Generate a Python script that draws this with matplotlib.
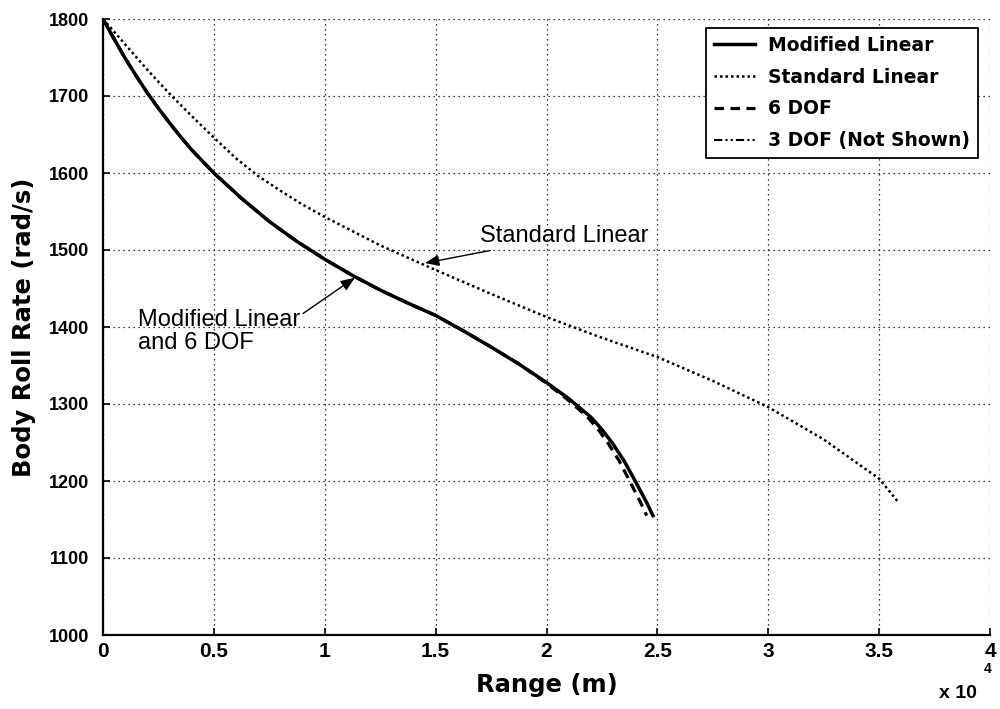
import matplotlib
matplotlib.use("Agg")
import matplotlib.pyplot as plt
from matplotlib import font_manager
from matplotlib.ticker import FixedLocator, FuncFormatter

# ---- data (range in metres, roll rate in rad/s) ----
range_mod = [0, 500, 1000, 1500, 2000, 2500, 3000, 3500, 4000, 4500, 5000, 6250, 7500,
             8750, 10000, 11250, 12500, 13750, 15000, 16250, 17500, 18750, 20000,
             21000, 22000, 22500, 23000, 23500, 24000, 24500, 24800]
rate_mod = [1800, 1774, 1749, 1726, 1704, 1684, 1665, 1647, 1630, 1615, 1600, 1567, 1537,
            1511, 1488, 1467, 1448, 1431, 1415, 1395, 1374, 1352, 1328,
            1307, 1283, 1267, 1248, 1226, 1200, 1173, 1155]

range_std = [0, 1000, 2000, 3000, 4000, 5000, 6000, 7000, 8000, 9000, 10000, 12500,
             15000, 17500, 20000, 22400, 25000, 27500, 30000, 32500, 35000, 35850]
rate_std = [1800, 1767, 1734, 1703, 1674, 1646, 1619, 1596, 1577, 1559, 1543, 1506,
            1474, 1443, 1413, 1387, 1361, 1330, 1296, 1254, 1203, 1173]

range_6dof = [0, 500, 1000, 1500, 2000, 2500, 3000, 3500, 4000, 4500, 5000, 6250, 7500,
              8750, 10000, 11250, 12500, 13750, 15000, 16250, 17500, 18750, 19950,
              20900, 21850, 22330, 22800, 23280, 23750, 24230, 24520]
rate_6dof = [1800, 1774, 1749, 1726, 1704, 1684, 1665, 1647, 1630, 1615, 1600, 1567, 1537,
             1511, 1488, 1467, 1448, 1431, 1415, 1395, 1374, 1352, 1328,
             1307, 1283, 1267, 1248, 1226, 1200, 1173, 1155]

x_ticks = [0, 5000, 10000, 15000, 20000, 25000, 30000, 35000, 40000]
y_ticks = [1000, 1100, 1200, 1300, 1400, 1500, 1600, 1700, 1800]

labels = ["Modified Linear", "Standard Linear", "6 DOF", "3 DOF (Not Shown)"]


def pick_font(candidates):
    for name in candidates:
        try:
            font_manager.findfont(font_manager.FontProperties(family=name),
                                  fallback_to_default=False)
            return name
        except Exception:
            pass
    return "DejaVu Sans"


tick_family = pick_font(["Liberation Sans"])
ann_family = pick_font(["Liberation Sans"])

# ---- figure ----
fig = plt.figure(figsize=(10, 7.09), dpi=100)
ax = fig.add_axes([0.103, 1 - 635 / 709, 0.887, (635 - 19) / 709])

ax.plot(range_mod, rate_mod, color="black", lw=2.5, ls="-", label=labels[0], zorder=4)
ax.plot(range_std, rate_std, color="black", lw=1.8, ls=(0, (1, 1.2)), label=labels[1], zorder=3)
ax.plot(range_6dof, rate_6dof, color="black", lw=2.3, ls=(0, (3, 2)), label=labels[2], zorder=3)
# 3 DOF not shown: legend entry only
ax.plot([], [], color="black", lw=1.5, ls=(0, (4, 1.5, 1, 1.5, 1, 1.5)), label=labels[3])

ax.set_xlim(0, 40000)
ax.set_ylim(1000, 1800)
ax.xaxis.set_major_locator(FixedLocator(x_ticks))
ax.yaxis.set_major_locator(FixedLocator(y_ticks))
ax.xaxis.set_major_formatter(FuncFormatter(lambda v, p: "%g" % (v / 1e4)))
ax.yaxis.set_major_formatter(FuncFormatter(lambda v, p: "%d" % v))

ax.grid(True, color="black", lw=0.9, ls=(0, (1, 3)))
for s in ["top", "right"]:
    ax.spines[s].set_visible(False)
for s in ["left", "bottom"]:
    ax.spines[s].set_linewidth(1.6)

ax.tick_params(direction="in", length=5, width=1.2, top=False, right=False)
ax.tick_params(axis="y", pad=10)
ax.tick_params(axis="x", pad=5)
yfp = font_manager.FontProperties(family=tick_family, weight="bold", size=13)
xfp = font_manager.FontProperties(family=tick_family, weight="bold", size=15)
for lab in ax.get_yticklabels():
    lab.set_fontproperties(yfp)
for lab in ax.get_xticklabels():
    lab.set_fontproperties(xfp)

ax.set_ylabel("Body Roll Rate (rad/s)", family="DejaVu Sans", weight="bold", size=17.5, labelpad=9)
ax.set_xlabel("Range (m)", family="DejaVu Sans", weight="bold", size=17.5, labelpad=9)

fig.text(958 / 1000, 1 - 694 / 709, "x 10", ha="center", va="center",
         family=tick_family, weight="bold", size=14)
fig.text(988 / 1000, 1 - 669 / 709, "4", ha="center", va="center",
         family=tick_family, weight="bold", size=10)

leg = ax.legend(loc="upper right", bbox_to_anchor=(0.9865, 0.9854), borderaxespad=0,
                fancybox=False, edgecolor="black", framealpha=1, handlelength=2.2,
                labelspacing=0.68, borderpad=0.42, handletextpad=0.7,
                prop=dict(family="DejaVu Sans", weight="bold", size=13.5))
leg.get_frame().set_linewidth(1.3)

ann_font = dict(family=ann_family, size=17)
ax.annotate("Standard Linear", xy=(14520, 1483), xytext=(17000, 1518),
            ha="left", va="center", **ann_font,
            arrowprops=dict(arrowstyle="-|>,head_length=0.5,head_width=0.2",
                            color="black", lw=1.0, shrinkA=2, shrinkB=0))
ax.annotate("Modified Linear\nand 6 DOF", xy=(11360, 1464), xytext=(1580, 1424),
            ha="left", va="top", linespacing=1.1, **ann_font,
            arrowprops=dict(arrowstyle="-|>,head_length=0.5,head_width=0.2",
                            color="black", lw=1.0, shrinkA=0, shrinkB=0,
                            relpos=(1.0, 0.85)))

fig.savefig("out.png", dpi=100)
